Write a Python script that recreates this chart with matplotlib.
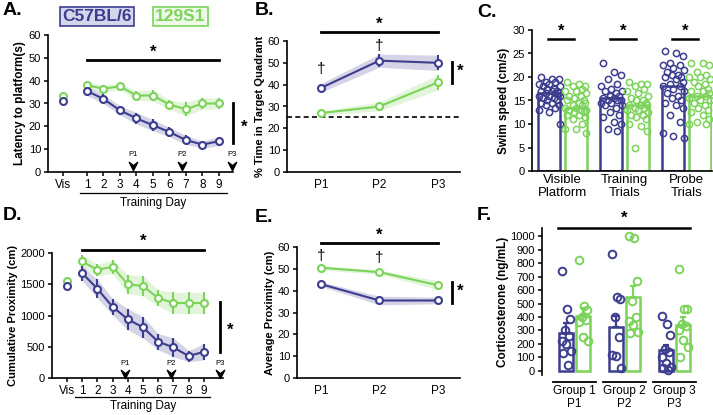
import numpy as np
import matplotlib
matplotlib.use('Agg')
import matplotlib.pyplot as plt
from matplotlib.path import Path

plt.rcParams['font.family'] = ['Liberation Sans', 'DejaVu Sans']

BLUE = '#3d3d8f'
GREEN = '#7cd35a'
W, H = 713, 415

# ---- data -------------------------------------------------------------
days = [1, 2, 3, 4, 5, 6, 7, 8, 9]
day_labels = ['Vis', '1', '2', '3', '4', '5', '6', '7', '8', '9']

# A. latency to platform (s)
lat_b6_vis = 31
lat_129_vis = 33.5
lat_b6 = [35.5, 32, 27, 23.5, 20.5, 17.5, 14, 12, 13.5]
lat_b6_err = [2, 2, 2, 2.5, 2.5, 2, 2, 1.5, 2]
lat_129 = [38, 36.5, 37.5, 33.5, 33.5, 29.5, 27.5, 30, 30]
lat_129_err = [1.5, 1.5, 1.5, 2, 2.5, 2, 3, 2.5, 2.5]

# B. % time in target quadrant
probes = ['P1', 'P2', 'P3']
quad_b6 = [38.5, 51, 50]
quad_b6_err = [2, 3, 3.5]
quad_129 = [27, 30, 41]
quad_129_err = [1, 2, 3.5]

# C. swim speed (cm/s)
speed_groups = ['Visible\nPlatform', 'Training\nTrials', 'Probe\nTrials']
speed_b6_mean = [16.5, 15.5, 18]
speed_129_mean = [13.5, 14, 16]
speed_b6_pts = [
    [20, 19.5, 19.5, 19, 19, 18.5, 18.5, 18, 18, 17.5, 17.5, 17, 17, 17, 16.5, 16.5,
     16.5, 16, 16, 16, 15.5, 15.5, 15, 15, 14.5, 14.5, 14, 14, 13.5, 13, 12.5, 10],
    [23, 21, 20.5, 19.5, 18.5, 18, 17.5, 17, 17, 16.5, 16, 16, 15.5, 15.5, 15, 15,
     15, 14.5, 14.5, 14, 14, 13.5, 12.5, 12, 11.5, 10.5, 10, 9, 8.5],
    [25.5, 25, 24.5, 23, 22.5, 22.5, 22, 21.5, 21, 20.5, 20.5, 20, 20, 19.5, 19, 18.5,
     18, 18, 17.5, 17, 16.5, 16, 15.5, 15, 14.5, 14, 13.5, 12, 10.5, 8, 7.5, 7],
]
speed_129_pts = [
    [19, 18.5, 18, 18, 17.5, 17, 17, 16.5, 16, 16, 15.5, 15, 15, 14.5, 14.5, 14, 14,
     13.5, 13.5, 13, 13, 13, 12.5, 12.5, 12, 12, 11.5, 11, 10, 9, 9, 8],
    [19, 18.5, 18.5, 18, 17.5, 17, 16.5, 16, 15.5, 15, 15, 14.5, 14, 14, 14, 13.5,
     13.5, 13, 13, 12.5, 12, 12, 11.5, 11, 10, 9.5, 8.5, 5],
    [23, 23, 22.5, 21, 20.5, 20, 20, 19.5, 19, 18.5, 18, 17.5, 17, 17, 16.5, 16, 16,
     15.5, 15, 15, 14.5, 14, 13.5, 13, 12.5, 12, 11, 10.5, 10, 10],
]

# D. cumulative proximity (cm)
cum_b6_vis, cum_b6_vis_err = 1480, 70
cum_129_vis, cum_129_vis_err = 1560, 60
cum_b6 = [1680, 1430, 1140, 940, 810, 580, 490, 350, 420]
cum_b6_err = [120, 150, 130, 170, 170, 130, 150, 90, 130]
cum_129 = [1870, 1730, 1780, 1500, 1470, 1280, 1200, 1200, 1200]
cum_129_err = [100, 90, 110, 150, 160, 130, 170, 170, 170]

# E. average proximity (cm)
avg_b6 = [43, 35.5, 35.5]
avg_b6_err = [1, 2, 1.5]
avg_129 = [50.5, 48.5, 42.5]
avg_129_err = [1, 1, 2]

# F. corticosterone (ng/mL)
cort_groups = ['Group 1\nP1', 'Group 2\nP2', 'Group 3\nP3']
cort_b6_mean = [285, 325, 155]
cort_b6_err = [70, 80, 35]
cort_129_mean = [410, 545, 340]
cort_129_err = [55, 85, 60]
cort_b6_pts = [
    [740, 460, 385, 300, 260, 220, 200, 150, 130, 45],
    [870, 550, 530, 400, 250, 120, 110, 20],
    [405, 350, 265, 160, 140, 100, 60, 30, 20, 10],
]
cort_129_pts = [
    [820, 480, 450, 400, 380, 360, 250, 220],
    [1000, 985, 670, 520, 400, 370, 340, 290, 280],
    [755, 460, 460, 350, 330, 300, 230, 180, 100],
]

# ---- helpers ----------------------------------------------------------
fig = plt.figure(figsize=(W / 100, H / 100), dpi=100)


def ax_px(x0, x1, ytop, ybot):
    return fig.add_axes([x0 / W, 1 - ybot / H, (x1 - x0) / W, (ybot - ytop) / H])


def style(ax):
    for s in ['top', 'right']:
        ax.spines[s].set_visible(False)
    for s in ['left', 'bottom']:
        ax.spines[s].set_linewidth(1.2)
    ax.tick_params(labelsize=8, width=1.1, length=3, pad=2)


def series(ax, x, y, err, color):
    y = np.asarray(y, float)
    err = np.asarray(err, float)
    ax.fill_between(x, y - err, y + err, color=color, alpha=0.22, lw=0)
    ax.errorbar(x, y, yerr=err, color=color, lw=1.5, elinewidth=1.5, capsize=0,
                marker='o', ms=5, mfc='white', mec=color, mew=1.5, zorder=3)


def point(ax, x, y, err, color):
    ax.errorbar([x], [y], yerr=[err] if err else None, color=color, elinewidth=1.5,
                capsize=0, marker='o', ms=5, mfc='white', mec=color, mew=1.5,
                ls='none', zorder=3)


chevron = Path([(-1, 1), (0, -1), (1, 1), (0, 0.2), (-1, 1)],
               [Path.MOVETO, Path.LINETO, Path.LINETO, Path.LINETO, Path.CLOSEPOLY])


def probe_marks(ax, xs, yarrow, ytext):
    for i, x in enumerate(xs):
        ax.plot([x], [yarrow], marker=chevron, ms=6, color='black', clip_on=False)
        ax.text(x, ytext, f'P{i + 1}', ha='center', va='center', fontsize=5.5)


def star(ax, x, y, **kw):
    ax.text(x, y, '*', ha='center', va='center', fontsize=12, fontweight='bold',
            clip_on=False, **kw)


def dagger(ax, x, y):
    ax.text(x, y, '†', ha='center', va='center', fontsize=11, clip_on=False)


def jitter(n, width):
    pattern = np.array([-0.8, 0.3, 0.9, -0.3, 0.6, -1.0, 0.0, 1.0, -0.6, 0.45, -0.15, 0.75])
    return np.resize(pattern, n) * width


def day_axis(ax, vis_x, xlim, line_x):
    ax.set_xlim(*xlim)
    ax.set_xticks([vis_x] + days)
    ax.set_xticklabels(day_labels, fontsize=8.5)
    ax.plot(line_x, [-0.155, -0.155], color='black', lw=0.9,
            transform=ax.get_xaxis_transform(), clip_on=False)
    ax.text(np.mean([1, 9]), -0.225, 'Training Day', ha='center', va='center',
            fontsize=8.5, transform=ax.get_xaxis_transform())


# ---- A ----------------------------------------------------------------
axA = ax_px(48, 233, 35, 172)
style(axA)
series(axA, days, lat_129, lat_129_err, GREEN)
series(axA, days, lat_b6, lat_b6_err, BLUE)
point(axA, -0.45, lat_129_vis, 0, GREEN)
point(axA, -0.45, lat_b6_vis, 0, BLUE)
axA.set_ylim(0, 60)
axA.set_yticks(range(0, 61, 10))
day_axis(axA, -0.45, (-1.36, 9.85), [0.58, 9.48])
axA.set_ylabel('Latency to platform(s)', fontsize=8.5, fontweight='bold', labelpad=2)
probe_marks(axA, [3.8, 6.76, 9.8], 2.8, 7.5)
axA.plot([1, 9], [49, 49], color='black', lw=2, clip_on=False)
star(axA, 5, 52.5)
axA.plot([9.85, 9.85], [12.7, 30.2], color='black', lw=2, clip_on=False)
star(axA, 10.5, 19.5)

fig.text(97 / W, 1 - 16.5 / H, 'C57BL/6', ha='center', va='center', fontsize=12.5,
         fontweight='bold', color=BLUE,
         bbox=dict(boxstyle='square,pad=0.12', fc='#d5d6ec', ec=BLUE, lw=1.2))
fig.text(180.5 / W, 1 - 16.5 / H, '129S1', ha='center', va='center', fontsize=12.5,
         fontweight='bold', color=GREEN,
         bbox=dict(boxstyle='square,pad=0.12', fc='#eef9e8', ec=GREEN, lw=1.2))

# ---- B ----------------------------------------------------------------
px = [0, 1, 2]
axB = ax_px(287, 460, 41, 172)
style(axB)
series(axB, px, quad_129, quad_129_err, GREEN)
series(axB, px, quad_b6, quad_b6_err, BLUE)
axB.axhline(25, color='black', lw=1.2, ls=(0, (3, 2)), xmin=0, xmax=1)
axB.set_ylim(0, 60)
axB.set_yticks(range(0, 61, 10))
axB.set_xlim(-0.58, 2.38)
axB.set_xticks(px)
axB.set_xticklabels(probes, fontsize=8.5)
axB.tick_params(axis='x', length=0, pad=5)
axB.set_ylabel('% Time in Target Quadrant', fontsize=8, fontweight='bold', labelpad=2)
axB.plot([0, 2], [64, 64], color='black', lw=2, clip_on=False)
star(axB, 1, 67.5)
dagger(axB, 0, 47)
dagger(axB, 1, 57.5)
axB.plot([2.24, 2.24], [40.8, 50.4], color='black', lw=2, clip_on=False)
star(axB, 2.38, 46)

# ---- C ----------------------------------------------------------------
axC = ax_px(532, 712, 30, 171)
style(axC)
gx = np.arange(3)
bw = 0.355
for i in range(3):
    for off, mean, pts, col in [(-0.215, speed_b6_mean[i], speed_b6_pts[i], BLUE),
                                (0.215, speed_129_mean[i], speed_129_pts[i], GREEN)]:
        axC.bar(gx[i] + off, mean, width=bw, color='white', edgecolor=col, lw=1.8, zorder=1)
        axC.plot(gx[i] + off + jitter(len(pts), 0.17), pts, 'o', ms=4.5, mfc='none',
                 mec=col, mew=1.1, zorder=2)
    axC.plot([gx[i] - 0.24, gx[i] + 0.19], [28.1, 28.1], color='black', lw=1.8, clip_on=False)
    star(axC, gx[i] - 0.02, 29.8)
axC.set_ylim(0, 30)
axC.set_yticks(range(0, 31, 5))
axC.set_xlim(-0.49, 2.41)
axC.set_xticks(gx)
axC.set_xticklabels(speed_groups, fontsize=9.5, linespacing=1.1)
axC.tick_params(axis='x', length=0, pad=2)
axC.set_ylabel('Swim speed (cm/s)', fontsize=8.5, fontweight='bold', labelpad=2)

# ---- D ----------------------------------------------------------------
axD = ax_px(52, 223, 253, 378)
style(axD)
series(axD, days, cum_129, cum_129_err, GREEN)
series(axD, days, cum_b6, cum_b6_err, BLUE)
point(axD, 0, cum_129_vis, cum_129_vis_err, GREEN)
point(axD, 0, cum_b6_vis, cum_b6_vis_err, BLUE)
axD.set_ylim(0, 2000)
axD.set_yticks(range(0, 2001, 500))
day_axis(axD, 0, (-0.97, 10.25), [0.54, 9.39])
axD.set_ylabel('Cumulative Proximity (cm)', fontsize=8, fontweight='bold', labelpad=2)
probe_marks(axD, [3.82, 6.84, 10.05], 60, 225)
axD.plot([1, 9], [2050, 2050], color='black', lw=2, clip_on=False)
star(axD, 5, 2180)
axD.plot([10.05, 10.05], [416, 1216], color='black', lw=2, clip_on=False)
star(axD, 10.75, 770)

# ---- E ----------------------------------------------------------------
axE = ax_px(297, 460, 247, 378)
style(axE)
series(axE, px, avg_129, avg_129_err, GREEN)
series(axE, px, avg_b6, avg_b6_err, BLUE)
axE.set_ylim(0, 60)
axE.set_yticks(range(0, 61, 10))
axE.set_xlim(-0.41, 2.38)
axE.set_xticks(px)
axE.set_xticklabels(probes, fontsize=8.5)
axE.tick_params(axis='x', length=0, pad=5)
axE.set_ylabel('Average Proximity (cm)', fontsize=8, fontweight='bold', labelpad=2)
axE.plot([0, 2], [62, 62], color='black', lw=2, clip_on=False)
star(axE, 1, 65.5)
dagger(axE, 0, 56)
dagger(axE, 1, 55)
axE.plot([2.24, 2.24], [34.4, 44], color='black', lw=2, clip_on=False)
star(axE, 2.38, 39.5)

# ---- F ----------------------------------------------------------------
axF = ax_px(542, 700, 228, 375)
style(axF)
axF.spines['bottom'].set_visible(False)
fbw = 0.28
for i in range(3):
    for off, mean, err, pts, col in [(-0.17, cort_b6_mean[i], cort_b6_err[i], cort_b6_pts[i], BLUE),
                                     (0.17, cort_129_mean[i], cort_129_err[i], cort_129_pts[i], GREEN)]:
        axF.bar(gx[i] + off, mean, width=fbw, color='white', edgecolor=col, lw=1.8, zorder=1)
        axF.errorbar([gx[i] + off], [mean], yerr=[[0], [err]], color=col, elinewidth=1.6,
                     capsize=2.5, capthick=1.6, ls='none', zorder=2)
        axF.plot(gx[i] + off + jitter(len(pts), 0.09), pts, 'o', ms=5.5, mfc='none',
                 mec=col, mew=1.4, zorder=3)
    axF.plot([gx[i] - 0.43, gx[i] + 0.42], [-80, -80], color='black', lw=1.3, clip_on=False)
axF.set_ylim(-30, 1060)
axF.set_yticks(range(0, 1001, 100))
axF.set_xlim(-0.65, 2.51)
axF.set_xticks(gx)
axF.set_xticklabels(cort_groups, fontsize=8.5, linespacing=1.1)
axF.tick_params(axis='x', length=0, pad=7)
axF.set_ylabel('Corticosterone (ng/mL)', fontsize=8.5, fontweight='bold', labelpad=1)
axF.plot([-0.33, 2.31], [1060, 1060], color='black', lw=1.8, clip_on=False)
star(axF, 1, 1135)

# ---- panel letters ----------------------------------------------------
for lab, x, y in [('A.', 3, 2), ('B.', 255, 2), ('C.', 477, 4),
                  ('D.', 3, 207), ('E.', 255, 209), ('F.', 477, 207)]:
    fig.text(x / W, 1 - y / H, lab, ha='left', va='top', fontsize=14, fontweight='bold')

fig.savefig('out.png', dpi=100)
